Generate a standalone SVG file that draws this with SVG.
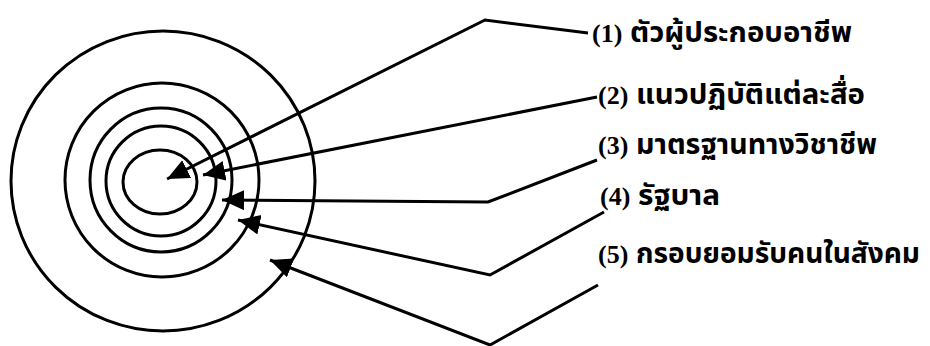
<svg xmlns="http://www.w3.org/2000/svg" width="930" height="346" viewBox="0 0 930 346">
<style>
.ring{fill:none;stroke:#000;stroke-width:3}
.con{fill:none;stroke:#000;stroke-width:3;stroke-linejoin:miter;marker-end:url(#ah)}
.lbl{font-family:"Liberation Serif","Noto Sans Thai","Noto Serif Thai","Loma","Garuda","Norasi",serif;font-weight:bold;font-size:26px;fill:#000}
.th{font-size:28px}
</style>
<defs>
<marker id="ah" markerUnits="userSpaceOnUse" markerWidth="24" markerHeight="22" refX="22" refY="10" orient="auto">
<path d="M0,0 L22,10 L0,20 z" fill="#000"/>
</marker>
</defs>
<rect width="930" height="346" fill="#fff"/>
<g id="rings">
<ellipse id="ring5" class="ring" cx="163" cy="181" rx="152" ry="150"/>
<ellipse id="ring4" class="ring" cx="162" cy="180" rx="97" ry="97"/>
<ellipse id="ring3" class="ring" cx="161" cy="180" rx="71" ry="72"/>
<ellipse id="ring2" class="ring" cx="161" cy="181" rx="55" ry="55"/>
<ellipse id="ring1" class="ring" cx="160" cy="182" rx="37" ry="32"/>
</g>
<g id="connectors">
<polyline class="con" points="588,33 485,20 167,179"/>
<polyline class="con" points="597,97 203,175"/>
<polyline class="con" points="597,160 488,202 222,200"/>
<polyline class="con" points="604,212 490,275 238,220"/>
<polyline class="con" points="598,285 490,345 270,260"/>
</g>
<g id="label1"><text class="lbl" x="592" y="42">(1) <tspan class="th" x="630" textLength="222" lengthAdjust="spacingAndGlyphs">ตัวผู้ประกอบอาชีพ</tspan></text></g>
<g id="label2"><text class="lbl" x="598" y="104">(2) <tspan class="th" x="636" textLength="229" lengthAdjust="spacingAndGlyphs">แนวปฏิบัติแต่ละสื่อ</tspan></text></g>
<g id="label3"><text class="lbl" x="598" y="154">(3) <tspan class="th" x="636" textLength="241" lengthAdjust="spacingAndGlyphs">มาตรฐานทางวิชาชีพ</tspan></text></g>
<g id="label4"><text class="lbl" x="600" y="205">(4) <tspan class="th" x="638" textLength="82" lengthAdjust="spacingAndGlyphs">รัฐบาล</tspan></text></g>
<g id="label5"><text class="lbl" x="598" y="263">(5) <tspan class="th" x="636" textLength="284" lengthAdjust="spacingAndGlyphs">กรอบยอมรับคนในสังคม</tspan></text></g>
</svg>
